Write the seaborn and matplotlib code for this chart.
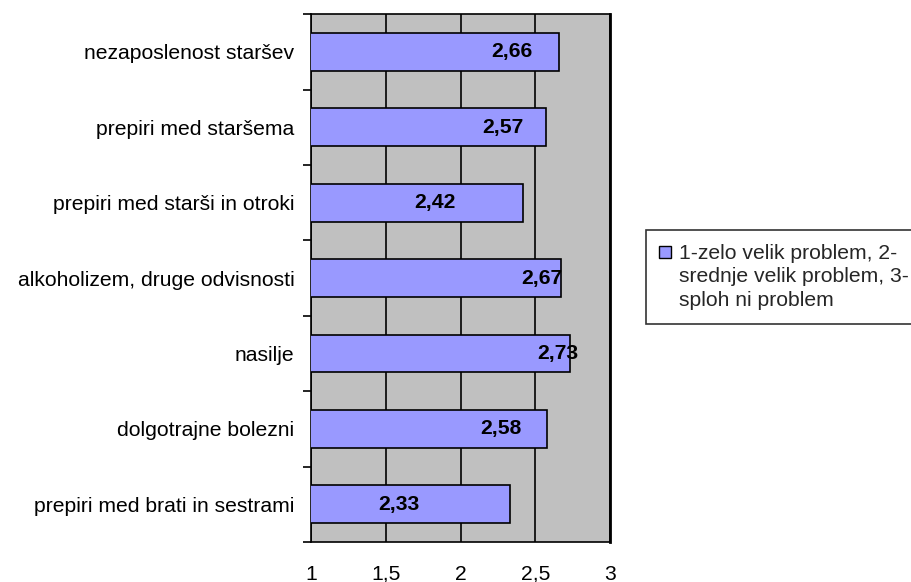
import matplotlib
matplotlib.use("Agg")
import matplotlib.pyplot as plt
import seaborn as sns
import pandas as pd
from matplotlib.patches import Patch

# data
categories = [
    "nezaposlenost staršev",
    "prepiri med staršema",
    "prepiri med starši in otroki",
    "alkoholizem, druge odvisnosti",
    "nasilje",
    "dolgotrajne bolezni",
    "prepiri med brati in sestrami",
]
values = [2.66, 2.57, 2.42, 2.67, 2.73, 2.58, 2.33]
x_ticks = [1, 1.5, 2, 2.5, 3]
x_tick_labels = ["1", "1,5", "2", "2,5", "3"]
legend_label = "1-zelo velik problem, 2-\nsrednje velik problem, 3-\nsploh ni problem"

# how far each value label sits left of its bar end (labels were placed by hand)
label_offset = [0.32, 0.29, 0.59, 0.13, 0.08, 0.31, 0.74]

BAR = "#9999FF"
BG = "#C0C0C0"
FS = 15.2

sns.set_theme(style="white")
plt.rcParams["font.family"] = ["Liberation Sans", "DejaVu Sans"]

df = pd.DataFrame({"kategorija": categories, "vrednost": values})

fig = plt.figure(figsize=(9.12, 5.82), dpi=100)
ax = fig.add_axes([0.341, 0.0687, 0.328, 0.907])
ax.set_facecolor(BG)

sns.barplot(data=df, x="vrednost", y="kategorija", orient="h", color=BAR,
            saturation=1, width=0.5, edgecolor="black", linewidth=1.2, ax=ax, zorder=3)

ax.set_xlim(1, 3)
ax.set_ylim(len(categories) - 0.5, -0.5)
ax.set_xticks(x_ticks)
ax.set_xticklabels(x_tick_labels, fontsize=FS, va="baseline")
ax.tick_params(axis="x", length=0, pad=27, colors="black")

# category boundaries carry the tick marks, labels sit in the middle
ax.set_yticks([i - 0.5 for i in range(len(categories) + 1)], minor=False)
ax.set_yticklabels([])
ax.tick_params(axis="y", which="major", direction="out", length=6, width=1.2, color="black", left=True)
ax.set_yticks(range(len(categories)), minor=True)
ax.set_yticklabels(categories, minor=True, fontsize=FS)
ax.tick_params(axis="y", which="minor", length=0, pad=12, colors="black")
ax.set_xlabel("")
ax.set_ylabel("")

ax.grid(axis="x", color="black", linewidth=1.2, zorder=1)
ax.set_axisbelow(True)
for side, sp in ax.spines.items():
    sp.set_visible(True)
    sp.set_color("black")
    sp.set_linewidth(1.2)
ax.spines["right"].set_linewidth(2)

for i, (v, off) in enumerate(zip(values, label_offset)):
    ax.text(v - off, i, f"{v:.2f}".replace(".", ","), ha="center", va="center",
            fontsize=FS, fontweight="bold", color="black", zorder=5)

handle = Patch(facecolor=BAR, edgecolor="black", linewidth=1)
leg = fig.legend(handles=[handle], labels=[legend_label], loc="center left",
                 bbox_to_anchor=(646 / 912, 1 - 277 / 582), borderaxespad=0,
                 frameon=True, fancybox=False, fontsize=FS,
                 handlelength=0.55, handleheight=0.55, handletextpad=0.38,
                 borderpad=0.62)
leg.get_frame().set_edgecolor("black")
leg.get_frame().set_linewidth(1.2)
for t in leg.get_texts():
    t.set_linespacing(1.33)
# put the square next to the first line, as in the original
sq = leg.legend_handles[0]
sq.set_y(sq.get_y() + 18)

fig.savefig("out.png", dpi=100)
